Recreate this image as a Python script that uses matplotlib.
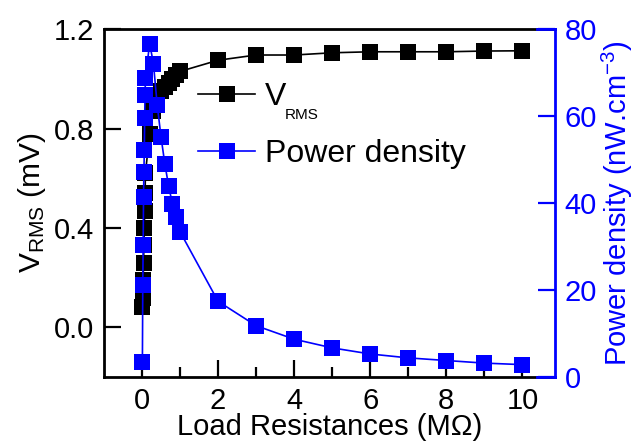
import matplotlib
matplotlib.use("Agg")
import matplotlib.pyplot as plt
from matplotlib.lines import Line2D

plt.rcParams['font.family'] = ['Liberation Sans', 'DejaVu Sans']
plt.rcParams['mathtext.fontset'] = 'custom'
plt.rcParams['mathtext.rm'] = 'Liberation Sans'
plt.rcParams['mathtext.it'] = 'Liberation Sans'

# Load resistance (MOhm)
resistance = [0.01, 0.02, 0.03, 0.04, 0.05, 0.06, 0.07, 0.08, 0.09,
              0.2, 0.3, 0.4, 0.5, 0.6, 0.7, 0.8, 0.9, 1.0,
              2, 3, 4, 5, 6, 7, 8, 9, 10]
# RMS voltage (mV)
v_rms = [0.08, 0.12, 0.19, 0.26, 0.33, 0.40, 0.47, 0.54, 0.62,
         0.78, 0.87, 0.92, 0.95, 0.966, 0.982, 0.998, 1.014, 1.03,
         1.075, 1.096, 1.096, 1.105, 1.109, 1.109, 1.109, 1.112, 1.113]
# Power density (nW/cm^3)
power_density = [3.5, 21.1, 30.3, 41.4, 47.2, 52.2, 59.5, 64.8, 68.7,
                 76.7, 72.1, 62.5, 55.2, 49.0, 43.9, 39.8, 36.8, 33.4,
                 17.4, 11.8, 8.7, 6.7, 5.3, 4.4, 3.8, 3.2, 2.85]

x_ticks = [0, 2, 4, 6, 8, 10]
v_ticks = [0.0, 0.4, 0.8, 1.2]
p_ticks = [0, 20, 40, 60, 80]

BLUE = '#0000FF'
FS = 21

fig = plt.figure(figsize=(6.34, 4.42), dpi=100)
ax = fig.add_axes([0.164, 0.147, 0.711, 0.787])
ax2 = ax.twinx()

ax.plot(resistance, v_rms, color='black', marker='s', ms=11.5, lw=1.2,
        markeredgewidth=0)
ax2.plot(resistance, power_density, color=BLUE, marker='s', ms=12, lw=1.2,
         markeredgewidth=0)

ax.set_xlim(-1, 10.85)
ax.set_ylim(-0.2, 1.2)
ax2.set_ylim(0, 80)

ax.set_xticks(x_ticks)
ax.set_xticks([1, 3, 5, 7, 9], minor=True)
ax.set_yticks(v_ticks)
ax.set_yticklabels([f'{t:.1f}' for t in v_ticks])
ax2.set_yticks(p_ticks)

ax.tick_params(axis='both', which='major', direction='in', length=12, width=1.6,
               labelsize=FS, pad=7, top=False, right=False)
ax.tick_params(axis='x', which='minor', direction='in', length=7, width=1.6)
ax2.tick_params(axis='y', which='major', direction='in', length=12, width=1.6,
                labelsize=FS, pad=7, colors=BLUE)

for s in ['left', 'bottom', 'top']:
    ax.spines[s].set_linewidth(2)
ax.spines['right'].set_visible(False)
for s in ['left', 'bottom', 'top']:
    ax2.spines[s].set_visible(False)
ax2.spines['right'].set_color(BLUE)
ax2.spines['right'].set_linewidth(2)
# blue corner segments of the right-hand frame
for yy in (0, 1):
    ax2.plot([0.96, 1.0], [yy, yy], transform=ax2.transAxes, color=BLUE,
             lw=2, clip_on=False, solid_capstyle='projecting')

ax.set_xlabel('Load Resistances (M\u03A9)', fontsize=21, labelpad=-1)
ax.set_ylabel(r'V$_{\mathregular{RMS}}$ (mV)', fontsize=21.5, labelpad=4)
ax2.set_ylabel(r'Power density (nW.cm$^{\mathregular{-3}}$)', fontsize=21,
               color=BLUE, labelpad=2)

handles = [Line2D([], [], color='black', marker='s', ms=11.5, lw=1.2,
                  markeredgewidth=0),
           Line2D([], [], color=BLUE, marker='s', ms=12, lw=1.2,
                  markeredgewidth=0)]
leg = ax2.legend(handles, ['V', 'Power density'], loc='upper left',
                 bbox_to_anchor=(0.18, 0.885), frameon=False, fontsize=23,
                 handlelength=1.8, handletextpad=0.3, labelspacing=0.85,
                 borderaxespad=0)
fig.text(285 / 634, 1 - 115 / 442, 'RMS', fontsize=11, ha='left', va='center')

fig.savefig('out.png', dpi=100)
